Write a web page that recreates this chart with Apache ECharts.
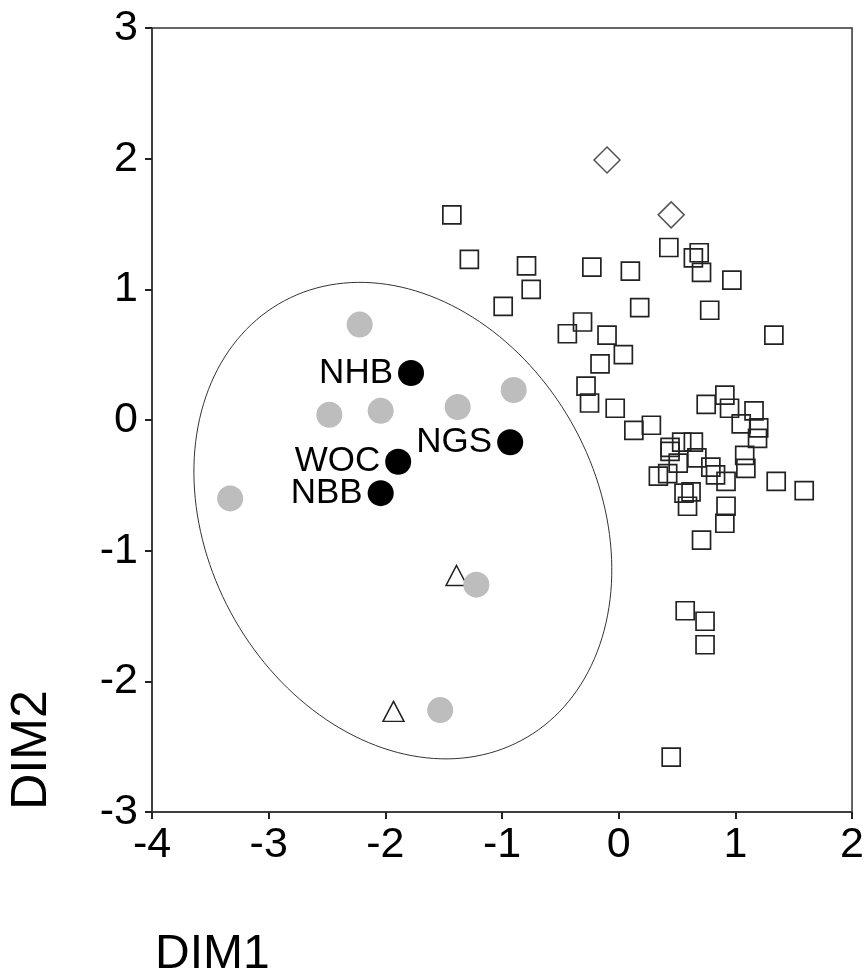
<html>
<head>
<meta charset="utf-8" />
<script src="https://cdn.jsdelivr.net/npm/echarts@6/dist/echarts.min.js"></script>
<style>
  html, body { margin: 0; padding: 0; background: #fff; }
  #chart { width: 867px; height: 980px; }
</style>
</head>
<body>
<div id="chart"></div>
<script type="text/javascript">
    // axis ranges and ticks
    var xTicks = [-4, -3, -2, -1, 0, 1, 2];
    var yTicks = [-3, -2, -1, 0, 1, 2, 3];

    // labelled sites (black dots)
    var siteNames = ['NHB', 'NGS', 'WOC', 'NBB'];
    var siteX = [-1.78, -0.93, -1.89, -2.04];
    var siteY = [0.36, -0.17, -0.32, -0.56];

    // grey dots
    var greyX = [-2.22, -2.48, -2.04, -1.38, -0.90, -3.33, -1.22, -1.53];
    var greyY = [0.73, 0.04, 0.07, 0.10, 0.23, -0.60, -1.26, -2.22];

    // open triangles
    var triX = [-1.39, -1.93];
    var triY = [-1.19, -2.23];

    // open diamonds
    var diaX = [-0.10, 0.45];
    var diaY = [1.99, 1.57];

    // open squares
    var sqX = [-1.43, -1.28, -0.79, -0.75, -0.99, -0.44, -0.31, -0.23, 0.10, 0.18,
               0.43, 0.69, 0.64, 0.71, 0.97, 0.78, -0.10, 1.33, 0.04, -0.16,
               -0.28, -0.25, -0.03, 0.13, 0.28, 0.75, 0.91, 0.95, 1.16, 1.05,
               1.20, 1.19, 1.08, 1.09, 1.35, 1.59, 0.64, 0.54, 0.44, 0.44,
               0.67, 0.51, 0.79, 0.83, 0.92, 0.34, 0.42, 0.62, 0.56, 0.59,
               0.92, 0.91, 0.71, 0.57, 0.74, 0.74, 0.45];
    var sqY = [1.57, 1.23, 1.18, 1.00, 0.87, 0.66, 0.75, 1.17, 1.14, 0.86,
               1.32, 1.28, 1.24, 1.13, 1.07, 0.84, 0.65, 0.65, 0.50, 0.43,
               0.26, 0.13, 0.09, -0.08, -0.04, 0.12, 0.19, 0.09, 0.07, -0.03,
               -0.06, -0.14, -0.27, -0.37, -0.47, -0.54, -0.17, -0.17, -0.21, -0.24,
               -0.29, -0.33, -0.36, -0.42, -0.47, -0.43, -0.41, -0.55, -0.56, -0.66,
               -0.66, -0.79, -0.92, -1.46, -1.54, -1.72, -2.58];

    // ellipse: centre x, centre y, semi-axis a, semi-axis b, angle (deg)
    var ellipse = [-1.85, -0.77, 1.985, 1.61, -47.5];

    function pairs(xs, ys) {
        return xs.map(function (x, i) { return [x, ys[i]]; });
    }

    var labelFont = "'Liberation Sans', Arial, sans-serif";
    var ink = '#222';

    var chart = echarts.init(document.getElementById('chart'));
    var option = {
        backgroundColor: '#fff',
        animation: false,
        grid: {
            left: 152, right: 10, top: 28, bottom: 168,
            show: true, borderColor: '#333', borderWidth: 1.5
        },
        title: {
            text: 'DIM1',
            left: 150,
            top: 926,
            textStyle: { fontFamily: labelFont, fontSize: 48, fontWeight: 'normal', color: '#000' }
        },
        graphic: [{
            type: 'text',
            x: 32,
            y: 750,
            rotation: Math.PI / 2,
            style: {
                text: 'DIM2',
                font: "normal 50px 'Liberation Sans', Arial, sans-serif",
                fill: '#000',
                textAlign: 'center',
                textVerticalAlign: 'middle'
            }
        }],
        xAxis: {
            type: 'value',
            min: xTicks[0],
            max: xTicks[xTicks.length - 1],
            interval: 1,
            axisLine: { show: true, onZero: false, lineStyle: { color: '#333', width: 1.5 } },
            axisTick: { show: true, length: 7, lineStyle: { color: '#222', width: 2 } },
            axisLabel: { fontFamily: labelFont, fontSize: 43, color: '#000', margin: 12 },
            splitLine: { show: false }
        },
        yAxis: {
            type: 'value',
            min: yTicks[0],
            max: yTicks[yTicks.length - 1],
            interval: 1,
            axisLine: { show: true, onZero: false, lineStyle: { color: '#333', width: 1.5 } },
            axisTick: { show: true, length: 7, lineStyle: { color: '#222', width: 2 } },
            axisLabel: { fontFamily: labelFont, fontSize: 43, color: '#000', margin: 14 },
            splitLine: { show: false }
        },
        series: [
            {
                type: 'custom',
                name: 'ellipse',
                data: [ellipse],
                silent: true,
                renderItem: function (params, api) {
                    var cx = api.value(0), cy = api.value(1);
                    var a = api.value(2), b = api.value(3);
                    var th = api.value(4) * Math.PI / 180;
                    var pts = [];
                    for (var i = 0; i < 180; i++) {
                        var t = i / 180 * Math.PI * 2;
                        var dx = a * Math.cos(t) * Math.cos(th) - b * Math.sin(t) * Math.sin(th);
                        var dy = a * Math.cos(t) * Math.sin(th) + b * Math.sin(t) * Math.cos(th);
                        pts.push(api.coord([cx + dx, cy + dy]));
                    }
                    return {
                        type: 'polygon',
                        shape: { points: pts },
                        style: { fill: 'none', stroke: '#333', lineWidth: 1 }
                    };
                },
                z: 1
            },
            {
                type: 'scatter',
                name: 'squares',
                data: pairs(sqX, sqY),
                symbol: 'rect',
                symbolSize: 18,
                itemStyle: { color: 'rgba(0,0,0,0)', borderColor: ink, borderWidth: 1.7, opacity: 1 },
                z: 2
            },
            {
                type: 'scatter',
                name: 'diamonds',
                data: pairs(diaX, diaY),
                symbol: 'diamond',
                symbolSize: 26,
                itemStyle: { color: 'rgba(0,0,0,0)', borderColor: '#555', borderWidth: 1.5, opacity: 1 },
                z: 2
            },
            {
                type: 'scatter',
                name: 'triangles',
                data: pairs(triX, triY),
                symbol: 'triangle',
                symbolSize: [21, 20],
                itemStyle: { color: 'rgba(0,0,0,0)', borderColor: ink, borderWidth: 1.5, opacity: 1 },
                z: 2
            },
            {
                type: 'scatter',
                name: 'grey',
                data: pairs(greyX, greyY),
                symbol: 'circle',
                symbolSize: 26,
                itemStyle: { color: '#bdbdbd', opacity: 1 },
                z: 3
            },
            {
                type: 'scatter',
                name: 'sites',
                data: siteX.map(function (x, i) { return { name: siteNames[i], value: [x, siteY[i]] }; }),
                symbol: 'circle',
                symbolSize: 26,
                itemStyle: { color: '#000', opacity: 1 },
                label: {
                    show: true,
                    position: 'left',
                    distance: 5,
                    formatter: '{b}',
                    fontFamily: labelFont,
                    fontSize: 35,
                    color: '#000',
                    opacity: 1
                },
                z: 4
            }
        ]
    };
    chart.setOption(option);
</script>
</body>
</html>
